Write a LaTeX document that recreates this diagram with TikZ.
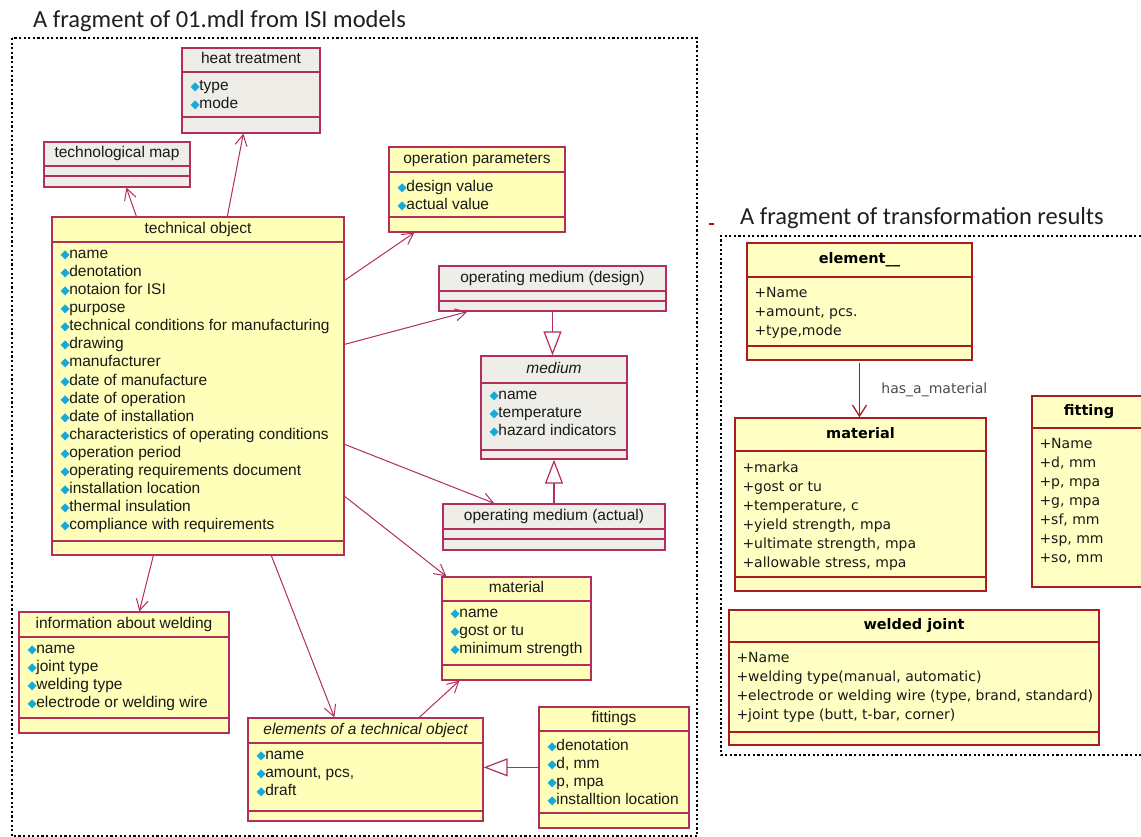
\documentclass[tikz,border=0pt]{standalone}
\usepackage{fontspec}
\setmainfont{Liberation Sans}
\newfontfamily\titlefont{Carlito}
\newfontfamily\xmifont{DejaVu Sans}
\newfontfamily\gemfont{DejaVu Sans}
\usetikzlibrary{arrows.meta,positioning,fit,calc}

\definecolor{roseyellow}{RGB}{255,255,185}
\definecolor{rosegrey}{RGB}{239,237,231}
\definecolor{roseline}{RGB}{178,46,92}
\definecolor{xmiyellow}{RGB}{255,255,196}
\definecolor{xmiline}{RGB}{168,28,34}
\definecolor{gemcyan}{RGB}{20,170,220}

\newcommand{\gem}{{\gemfont\fontsize{12}{10}\selectfont\color{gemcyan}◆}\kern-.4pt}

\tikzstyle{rosebox}=[
	draw=roseline,
	line width=1.3pt,
	fill=roseyellow,
	inner sep=0pt
]
\tikzstyle{rosegreybox}=[rosebox, fill=rosegrey]
\tikzstyle{rosetitle}=[
	font=\fontsize{15.5}{18}\selectfont,
	text=black!90,
	text height=11pt,
	text depth=3pt,
	inner sep=0pt
]
\tikzstyle{roseattrs}=[
	font=\fontsize{15.5}{18.07}\selectfont,
	text=black!90,
	align=left,
	anchor=north west,
	inner sep=0pt,
	xshift=9pt,
	yshift=-8pt,
	execute at begin node=\strut
]
\tikzstyle{association}=[
	-{Straight Barb[length=11pt,width=12pt]},
	draw=roseline,
	line width=1pt
]
\tikzstyle{inheritance}=[
	-{Triangle[open,fill=white,length=24pt,width=18pt]},
	draw=roseline,
	line width=1.2pt
]
\tikzstyle{xmibox}=[
	draw=xmiline,
	line width=1.4pt,
	fill=xmiyellow,
	inner sep=0pt
]
\tikzstyle{xmititle}=[
	font=\xmifont\bfseries\fontsize{14.5}{17}\selectfont,
	text height=11pt,
	text depth=3pt,
	inner sep=0pt
]
\tikzstyle{xmiattrs}=[
	font=\xmifont\fontsize{14}{19}\selectfont,
	text=black!90,
	align=left,
	anchor=north west,
	inner sep=0pt,
	xshift=8pt,
	yshift=-10.5pt,
	execute at begin node=\strut
]
\tikzstyle{xmiassoc}=[
	-{Straight Barb[length=11pt,width=14pt]},
	draw=xmiline,
	line width=1.3pt
]
\tikzstyle{fragment}=[
	draw=black,
	line width=2.2pt,
	dash pattern=on 2.2pt off 2.4pt
]
\tikzstyle{heading}=[
	font=\titlefont\fontsize{24.5}{28}\selectfont,
	text=black!88,
	anchor=base west,
	inner sep=0pt
]

\newcommand{\umlclass}[8]{%
	\node[#2, fit={#3 #4}] (#1) {};
	\draw[#2, fill=none] (#1.west |- 0,#5) -- (#1.east |- 0,#5);
	\draw[#2, fill=none] (#1.west |- 0,#6) -- (#1.east |- 0,#6);
	\node[#7] (#1-title) at ($(#1.north)!.5!(#1.north |- 0,#5)$) {#8};}
\newcommand{\umlattrs}[4]{%
	\node[#2] (#1-attrs) at (#1.west |- 0,#3) {#4};}

\begin{document}
\begin{tikzpicture}[x=1pt, y=-1pt]
\path[use as bounding box, fill=white] (0,0) rectangle (1141,837);

\node[heading] (isiheading) at (33,28) {A fragment of 01.mdl from ISI models};
\draw[fragment] (12,38) rectangle (697,836.5);

\umlclass{heattreatment}{rosegreybox}{(182,48)}{(320,133)}{72}{117}{rosetitle}{heat treatment}
\umlattrs{heattreatment}{roseattrs}{72}{\gem type\\ \gem mode}
\umlclass{techmap}{rosegreybox}{(44,142)}{(190,187)}{166}{176}{rosetitle}{technological map}
\umlclass{techobj}{rosebox}{(52,217)}{(344,555)}{242}{541}{rosetitle}{technical object}
\umlattrs{techobj}{roseattrs}{242}{\gem name\\ \gem denotation\\ \gem notaion for ISI\\ \gem purpose\\
	\gem technical conditions for manufacturing\\ \gem drawing\\ \gem manufacturer\\ \gem date of manufacture\\
	\gem date of operation\\ \gem date of installation\\ \gem characteristics of operating conditions\\
	\gem operation period\\ \gem operating requirements document\\ \gem installation location\\
	\gem thermal insulation\\ \gem compliance with requirements}
\umlclass{opparams}{rosebox}{(389,147)}{(565,232)}{172}{217}{rosetitle}{operation parameters}
\umlattrs{opparams}{roseattrs}{172}{\gem design value\\ \gem actual value}
\umlclass{mediumdesign}{rosegreybox}{(439,266)}{(666,311)}{291}{301}{rosetitle}{operating medium (design)}
\umlclass{medium}{rosegreybox}{(481,356)}{(627,459)}{383}{450}{rosetitle}{\itshape medium}
\umlattrs{medium}{roseattrs}{383}{\gem name\\ \gem temperature\\ \gem hazard indicators}
\umlclass{mediumactual}{rosegreybox}{(443,504)}{(665,550)}{529}{539}{rosetitle}{operating medium (actual)}
\umlclass{material}{rosebox}{(442,577)}{(591,680)}{601}{665}{rosetitle}{material}
\umlattrs{material}{roseattrs}{601}{\gem name\\ \gem gost or tu\\ \gem minimum strength}
\umlclass{welding}{rosebox}{(19,612)}{(229,733)}{637}{718}{rosetitle}{information about welding}
\umlattrs{welding}{roseattrs}{637}{\gem name\\ \gem joint type\\ \gem welding type\\ \gem electrode or welding wire}
\umlclass{elements}{rosebox}{(248,718)}{(483,821)}{743}{811}{rosetitle}{\itshape elements of a technical object}
\umlattrs{elements}{roseattrs}{743}{\gem name\\ \gem amount, pcs,\\ \gem draft}
\umlclass{fittings}{rosebox}{(539,707)}{(689,828)}{731}{813}{rosetitle}{fittings}
\umlattrs{fittings}{roseattrs}{731}{\gem denotation\\ \gem d, mm\\ \gem p, mpa\\ \gem installtion location}

\draw[association] ([xshift=85pt]techobj.north west) -- ([xshift=83pt]techmap.south west);
\draw[association] ([xshift=176pt]techobj.north west) -- ([xshift=62pt]heattreatment.south west);
\draw[association] ([yshift=-64pt]techobj.north east) -- ([xshift=26pt]opparams.south west);
\draw[association] ([yshift=-128pt]techobj.north east) -- ([xshift=29pt]mediumdesign.south west);
\draw[association] ([yshift=-228pt]techobj.north east) -- ([xshift=52pt]mediumactual.north west);
\draw[association] ([yshift=-280pt]techobj.north east) -- ([xshift=5pt]material.north west);
\draw[association] ([xshift=102pt]techobj.south west) -- ([xshift=121pt]welding.north west);
\draw[association] ([xshift=220pt]techobj.south west) -- ([xshift=87pt]elements.north west);
\draw[association] ([xshift=172pt]elements.north west) -- ([xshift=18pt]material.south west);
\draw[inheritance] (mediumdesign.south) -- (mediumdesign.south |- medium.north);
\draw[inheritance] (mediumactual.north) -- (mediumactual.north |- medium.south);
\draw[inheritance] ([yshift=-61pt]fittings.north west) -- ([yshift=-61pt]fittings.north west -| elements.east);

\node[heading] (xmiheading) at (740,225) {A fragment of transformation results};
\draw[red!80!black, line width=1.2pt] (709,224) -- (714,224);
\draw[fragment] (1150,236) -- (721,236) -- (721,755) -- (1150,755);

\umlclass{element}{xmibox}{(747,243)}{(972,360)}{277}{346}{xmititle}{element\_\_}
\umlattrs{element}{xmiattrs}{277}{+Name\\ +amount, pcs.\\ +type,mode}
\umlclass{xmaterial}{xmibox}{(735,418)}{(986,591)}{451}{577}{xmititle}{material}
\umlattrs{xmaterial}{xmiattrs}{451}{+marka\\ +gost or tu\\ +temperature, c\\ +yield strength, mpa\\
	+ultimate strength, mpa\\ +allowable stress, mpa}
\umlclass{fitting}{xmibox}{(1032,396)}{(1146,587)}{428}{587}{xmititle}{fitting}
\umlattrs{fitting}{xmiattrs}{428}{+Name\\ +d, mm\\ +p, mpa\\ +g, mpa\\ +sf, mm\\ +sp, mm\\ +so, mm}
\umlclass{weldedjoint}{xmibox}{(729,610)}{(1099,745)}{642}{732}{xmititle}{welded joint}
\umlattrs{weldedjoint}{xmiattrs}{642}{+Name\\ +welding type(manual, automatic)\\
	+electrode or welding wire (type, brand, standard)\\ +joint type (butt, t-bar, corner)}

\draw[xmiassoc] ([yshift=-2pt]element.south) -- (element.south |- xmaterial.north)
	node[midway, anchor=west, xshift=18pt, font=\xmifont\fontsize{14}{16}\selectfont, text=black!70] (hasmaterial) {has\_a\_material};
\end{tikzpicture}
\end{document}
